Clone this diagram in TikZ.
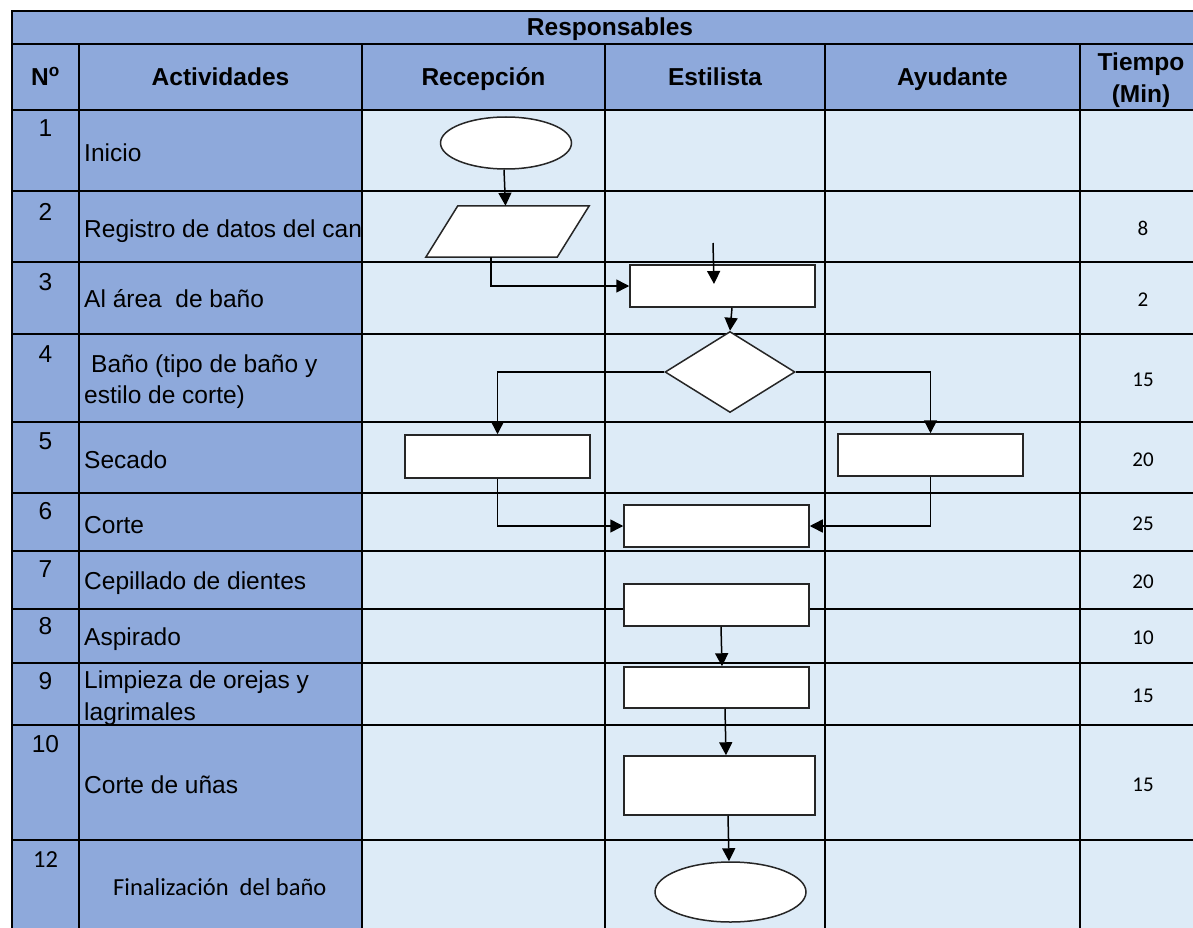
\documentclass[tikz,border=0pt]{standalone}
\usepackage{fontspec}
\setmainfont{Liberation Sans}
\newfontfamily\calibri{Carlito}
\usetikzlibrary{shapes.geometric,arrows.meta}
\definecolor{mblue}{HTML}{8EA9DB}
\definecolor{lblue}{HTML}{DDEBF7}
\definecolor{shp}{HTML}{262626}
\begin{document}
\begin{tikzpicture}[x=1pt,y=-1pt,
  font=\fontsize{24.5}{28}\selectfont,
  gridline/.style={line width=2pt,black},
  box/.style={rectangle,draw=shp,fill=white,line width=1.5pt,inner sep=0pt},
  oval/.style={ellipse,draw=shp,fill=white,line width=1.5pt,inner sep=0pt},
  flow/.style={draw=black,line width=1.5pt,-{Triangle[length=13pt,width=13pt]}},
  act/.style={anchor=base west,inner sep=0pt},
  num/.style={anchor=base,inner sep=0pt},
  tnum/.style={anchor=base,inner sep=0pt,font=\calibri\fontsize{21}{24}\selectfont},
  hdr/.style={anchor=base,inner sep=0pt,font=\bfseries\fontsize{24.5}{28}\selectfont}]
\useasboundingbox (0,0) rectangle (1193,928);
\clip (0,0) rectangle (1193,928);
\fill[white] (0,0) rectangle (1193,928);
% fills
\fill[mblue] (12,11) rectangle (1206,110);
\fill[mblue] (12,110) rectangle (362,935);
\fill[lblue] (362,110) rectangle (1206,935);
% grid
\foreach \yy in {44,110,191,262,334,422,493,551,609,663,725,840}
  \draw[gridline] (12,\yy) -- (1206,\yy);
\foreach \xx in {79,362,605,825,1080}
  \draw[gridline] (\xx,44) -- (\xx,935);
\draw[line width=2.5pt] (12,935) -- (12,11) -- (1206,11);
% headers
\node[hdr] (hresp) at (610,36) {Responsables};
\node[hdr] (hno) at (45.5,86) {N\textsuperscript{o}};
\node[hdr] (hact) at (220.5,86) {Actividades};
\node[hdr] (hrec) at (483.5,86) {Recepción};
\node[hdr] (hest) at (715,86) {Estilista};
\node[hdr] (hayu) at (952.5,86) {Ayudante};
\node[hdr] (htie1) at (1141,71) {Tiempo};
\node[hdr] (htie2) at (1141,103) {(Min)};
% row numbers
\node[num] (n1) at (45.5,137) {1};
\node[num] (n2) at (45.5,220) {2};
\node[num] (n3) at (45.5,290) {3};
\node[num] (n4) at (45.5,362) {4};
\node[num] (n5) at (45.5,449) {5};
\node[num] (n6) at (45.5,519) {6};
\node[num] (n7) at (45.5,577) {7};
\node[num] (n8) at (45.5,634) {8};
\node[num] (n9) at (45.5,689) {9};
\node[num] (n10) at (45.5,752) {10};
\node[num,font=\calibri\fontsize{24.5}{28}\selectfont] (n12) at (45.5,867) {12};
% activities
\node[act] (a1) at (84,162) {Inicio};
\node[act] (a2) at (84,237) {Registro de datos del can};
\node[act] (a3) at (84,307) {Al área~~de baño};
\node[act] (a4a) at (91,372) {Baño (tipo de baño y};
\node[act] (a4b) at (84,403) {estilo de corte)};
\node[act] (a5) at (84,468) {Secado};
\node[act] (a6) at (84,533) {Corte};
\node[act] (a7) at (84,589) {Cepillado de dientes};
\node[act] (a8) at (84,645) {Aspirado};
\node[act] (a9a) at (84,688) {Limpieza de orejas y};
\node[act] (a9b) at (84,720) {lagrimales};
\node[act] (a10) at (84,793) {Corte de uñas};
\node[act,font=\calibri\fontsize{24.5}{28}\selectfont] (a12) at (113,895) {Finalización~~del baño};
% times
\node[tnum] (t2) at (1143,235) {8};
\node[tnum] (t3) at (1143,306.5) {2};
\node[tnum] (t4) at (1143,386.5) {15};
\node[tnum] (t5) at (1143,466) {20};
\node[tnum] (t6) at (1143,530.5) {25};
\node[tnum] (t7) at (1143,588.5) {20};
\node[tnum] (t8) at (1143,644.5) {10};
\node[tnum] (t9) at (1143,702.5) {15};
\node[tnum] (t10) at (1143,791) {15};
% shapes
\node[oval,minimum width=131pt,minimum height=52pt] (start) at (506,143) {};
\node[rectangle,inner sep=0pt,minimum width=163pt,minimum height=51pt] (reg) at (507.5,231.5) {};
\draw[draw=shp,fill=white,line width=1.5pt,line join=miter]
  (reg.south west) -- ([xshift=32pt]reg.north west) -- (reg.north east) -- ([xshift=-32pt]reg.south east) -- cycle;
\node[box,minimum width=185pt,minimum height=42pt] (r3) at (722.5,286) {};
\node[diamond,draw=shp,fill=white,line width=1.5pt,inner sep=0pt,minimum width=130pt,minimum height=81pt] (dia) at (730,372) {};
\node[box,minimum width=185pt,minimum height=43pt] (sec) at (497.5,456.5) {};
\node[box,minimum width=185pt,minimum height=42pt] (ayu) at (930.5,455) {};
\node[box,minimum width=185pt,minimum height=42pt] (corte) at (716.5,526) {};
\node[box,minimum width=185pt,minimum height=42pt] (r7) at (716.5,605) {};
\node[box,minimum width=185pt,minimum height=41pt] (r9) at (716.5,687.5) {};
\node[box,minimum width=191pt,minimum height=59pt] (r10) at (719.5,785.5) {};
\node[oval,minimum width=151pt,minimum height=60pt] (end) at (730.5,892) {};
\coordinate (dang) at (713,243);
% connectors
\draw[flow] ([xshift=-2pt]start.south) -- ([xshift=-2pt]reg.north);
\draw[flow] ([xshift=-16.5pt]reg.south) |- (r3.west);
\draw[flow] (dang) -- ([xshift=-8.5pt,yshift=2pt]r3.center);
\draw[flow] ([xshift=9.5pt]r3.south) -- (dia.north);
\draw[flow] (dia.west) -| (sec.north);
\draw[flow] (dia.east) -| (ayu.north);
\draw[flow] (sec.south) |- (corte.west);
\draw[flow] (ayu.south) |- (corte.east);
\draw[flow] ([xshift=4.5pt]r7.south) -- ([xshift=5.5pt]r9.north);
\draw[flow] ([xshift=8.5pt]r9.south) -- ([xshift=6.5pt]r10.north);
\draw[flow] ([xshift=8.5pt]r10.south) -- ([xshift=-1.5pt]end.north);
\end{tikzpicture}
\end{document}
